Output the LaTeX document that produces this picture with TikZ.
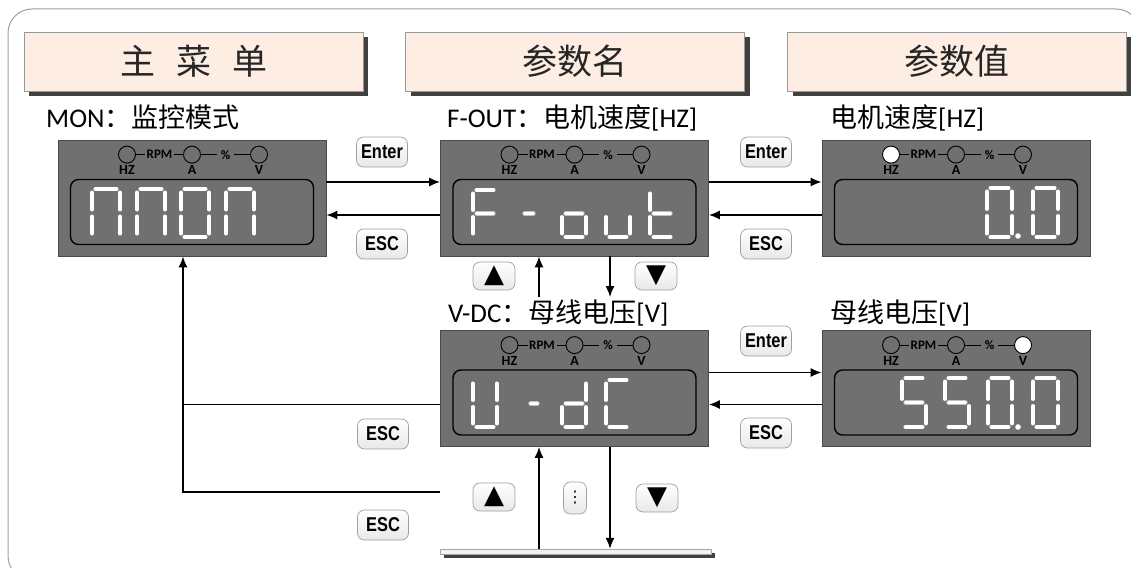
\documentclass[tikz,border=0pt]{standalone}
\usepackage{fontspec}
\setmainfont{Carlito}
\newfontfamily\cjk{Noto Sans CJK SC}
\newfontfamily\narrow[FakeStretch=0.82]{Liberation Sans}
\newfontfamily\symb{DejaVu Sans}
\usetikzlibrary{calc,arrows.meta,shadows,positioning}

\definecolor{panelgray}{HTML}{707070}
\definecolor{paneledge}{HTML}{4A4A4A}
\definecolor{headfill}{HTML}{FDEDE3}
\definecolor{framegray}{HTML}{A0A0A0}

\tikzset{
  panel/.style={draw=paneledge,fill=panelgray,line width=0.8pt,minimum width=268pt,minimum height=116pt,inner sep=0pt},
  lcd/.style={draw=black,line width=1.4pt,rounded corners=8pt,minimum width=243pt,minimum height=65pt,inner sep=0pt},
  led/.style={circle,draw=black,line width=0.9pt,minimum size=17pt,inner sep=0pt},
  ledlab/.style={font=\fontsize{14}{14}\selectfont\bfseries,inner sep=0pt},
  ledtext/.style={font=\fontsize{13}{13}\selectfont\bfseries,inner sep=1.5pt},
  header/.style={draw=gray!80,fill=headfill,line width=0.6pt,minimum width=339pt,minimum height=59pt,
    drop shadow={shadow xshift=5pt,shadow yshift=-5pt,fill=black!75,opacity=1},
    font=\cjk\fontsize{35}{35}\selectfont,text=black!85},
  title/.style={anchor=base west,inner sep=0pt,font=\fontsize{27}{27}\selectfont},
  key/.style={draw=gray!75,rounded corners=7pt,top color=white,bottom color=gray!18,line width=0.7pt,
    minimum width=51pt,minimum height=30pt,inner sep=0pt,font=\narrow\bfseries\fontsize{20}{20}\selectfont},
  arrowkey/.style={key,minimum width=42pt,minimum height=28pt,font=\symb\fontsize{26}{26}\selectfont},
  arr/.style={-{Latex[length=11pt,width=9pt]},line width=1.4pt},
  wire/.style={line width=1.4pt},
  segline/.style={draw=gray!50,double=white,double distance=3.4pt,line width=0.5pt,line cap=round},
}

% seven segment digit: x, y (top left), width, height, segments
\newcommand\segdigit[5]{%
  \begin{scope}[shift={(#1,#2)}]
    \def\dgw{#3}\def\dgh{#4}
    \foreach \s in {#5} {\csname seg\s\endcsname}
  \end{scope}}
\newcommand\sega{\draw[segline] (3.5,0) -- (\dgw-3.5,0);}
\newcommand\segb{\draw[segline] (\dgw,3.5) -- (\dgw,\dgh/2-3.5);}
\newcommand\segc{\draw[segline] (\dgw,\dgh/2+3.5) -- (\dgw,\dgh-3.5);}
\newcommand\segd{\draw[segline] (3.5,\dgh) -- (\dgw-3.5,\dgh);}
\newcommand\sege{\draw[segline] (0,\dgh/2+3.5) -- (0,\dgh-3.5);}
\newcommand\segf{\draw[segline] (0,3.5) -- (0,\dgh/2-3.5);}
\newcommand\segg{\draw[segline] (3.5,\dgh/2) -- (\dgw-3.5,\dgh/2);}

% panel: name, x, y, lit led (0 = none)
\newcommand\panelbox[4]{%
  \node[panel] (#1) at (#2,#3) {};
  \node[lcd] (#1lcd) at ([yshift=-14pt]#1.center) {};
  \foreach \dx/\lab/\n in {-65/HZ/1,0/A/2,67/V/3} {
    \ifnum\n=#4 \def\ledfill{white}\else\def\ledfill{panelgray}\fi
    \node[led,fill=\ledfill] (#1led\n) at ([xshift=\dx pt,yshift=-15pt]#1.north) {};
    \node[ledlab] at ([yshift=-15.5pt]#1led\n.center) {\lab};
  }
  \node[ledtext] (#1rpm) at ($(#1led1)!0.5!(#1led2)$) {RPM};
  \node[ledtext,inner sep=4pt] (#1pct) at ($(#1led2)!0.5!(#1led3)$) {\%};
  \draw[line width=0.9pt] (#1led1) -- (#1rpm) -- (#1led2) -- (#1pct) -- (#1led3);
}

\begin{document}
\begin{tikzpicture}[x=1pt,y=-1pt]
  \clip (0,0) rectangle (1131,567);
  \draw[framegray,line width=1pt,rounded corners=24pt] (8,9) rectangle (1140,580);

  % headers
  \node[header] (hmain) at (193.5,61.5) {主\hspace{0.6em}菜\hspace{0.6em}单};
  \node[header] (hname) at (575,61.5) {参数名};
  \node[header] (hval) at (957,61.5) {参数值};

  % titles
  \node[title] (tmon) at (46,128) {MON{\cjk ：监控模式}};
  \node[title] (tfout) at (447,128) {F-OUT{\cjk ：电机速度}[HZ]};
  \node[title] (tval) at (830,128) {{\cjk 电机速度}[HZ]};
  \node[title] (tvdc) at (448,322) {V-DC{\cjk ：母线电压}[V]};
  \node[title] (tvol) at (830,322) {{\cjk 母线电压}[V]};

  % panels
  \panelbox{mon}{192}{198}{0}
  \panelbox{fout}{574.5}{198}{0}
  \panelbox{val}{956}{198}{1}
  \panelbox{vdc}{574.5}{388.5}{0}
  \panelbox{vol}{956}{388.5}{3}

  % digits
  \segdigit{92}{189}{28}{48}{a,b,c,e,f}
  \segdigit{137}{189}{28}{48}{a,b,c,e,f}
  \segdigit{181}{189}{28}{48}{a,b,c,d,e,f}
  \segdigit{226}{189}{28}{48}{a,b,c,e,f}

  \segdigit{473}{190}{24}{47}{a,e,f,g}
  \segdigit{521}{190}{16}{47}{g}
  \segdigit{562}{190}{24}{47}{c,d,e,g}
  \segdigit{606}{190}{24}{47}{c,d,e}
  \segdigit{650}{190}{24}{47}{d,e,f,g}

  \segdigit{473}{380}{24}{47}{b,c,d,e,f}
  \segdigit{527}{380}{14}{47}{g}
  \segdigit{562}{380}{24}{47}{b,c,d,e,g}
  \segdigit{606}{380}{24}{47}{a,d,e,f}

  \segdigit{987}{188}{25}{49}{a,b,c,d,e,f}
  \fill[white] (1018,236) circle (2.8pt);
  \segdigit{1033}{188}{25}{49}{a,b,c,d,e,f}

  \segdigit{902}{378}{24}{49}{a,c,d,f,g}
  \segdigit{945}{378}{24}{49}{a,c,d,f,g}
  \segdigit{988}{378}{24}{49}{a,b,c,d,e,f}
  \fill[white] (1018,427) circle (2.8pt);
  \segdigit{1033}{378}{25}{49}{a,b,c,d,e,f}

  % keys
  \node[key] (enter1) at (382,152) {Enter};
  \node[key] (esc1) at (382,244) {ESC};
  \node[key] (enter2) at (766,152) {Enter};
  \node[key] (esc2) at (766,244) {ESC};
  \node[key] (enter3) at (766,341) {Enter};
  \node[key] (esc3) at (766,433) {ESC};
  \node[key] (esc4) at (383,434) {ESC};
  \node[key] (esc5) at (383,525) {ESC};
  \node[arrowkey] (up1) at (494,276) {▲};
  \node[arrowkey] (down1) at (656,276) {▼};
  \node[arrowkey] (up2) at (494,497) {▲};
  \node[key,minimum width=23pt,minimum height=32pt,font=\symb\fontsize{16}{16}\selectfont] (more) at (575,498) {⋮};
  \node[arrowkey] (down2) at (657,498) {▼};

  % bottom bar
  \node[draw=gray!70,fill=gray!10,minimum width=271pt,minimum height=5pt,inner sep=0pt,
    drop shadow={shadow xshift=4pt,shadow yshift=-4pt,fill=black!75,opacity=1}] (bar) at (575.5,551.5) {};

  % connectors
  \draw[arr] ([yshift=16pt]mon.east) -- ([yshift=16pt]fout.west);
  \draw[arr] ([yshift=-17pt]fout.west) -- ([yshift=-17pt]mon.east);
  \draw[arr] ([yshift=16pt]fout.east) -- ([yshift=16pt]val.west);
  \draw[arr] ([yshift=-17pt]val.west) -- ([yshift=-17pt]fout.east);
  \draw[arr] ([yshift=16pt]vdc.east) -- ([yshift=16pt]vol.west);
  \draw[arr] ([yshift=-16pt]vol.west) -- ([yshift=-16pt]vdc.east);

  \coordinate (upA) at (539,297);
  \coordinate (dnA) at (610,297);
  \draw[arr] (upA) -- (upA |- fout.south);
  \draw[arr] (dnA |- fout.south) -- (dnA);
  \draw[arr] (upA |- bar.north) -- (upA |- vdc.south);
  \draw[arr] (dnA |- vdc.south) -- (dnA |- bar.north);

  \coordinate (escA) at (183,404.5);
  \coordinate (escB) at (183,492);
  \draw[wire] ([yshift=-16pt]vdc.west) -- (escA);
  \draw[arr] (escB -| vdc.west) -- (escB) -- (escB |- mon.south);
\end{tikzpicture}
\end{document}
